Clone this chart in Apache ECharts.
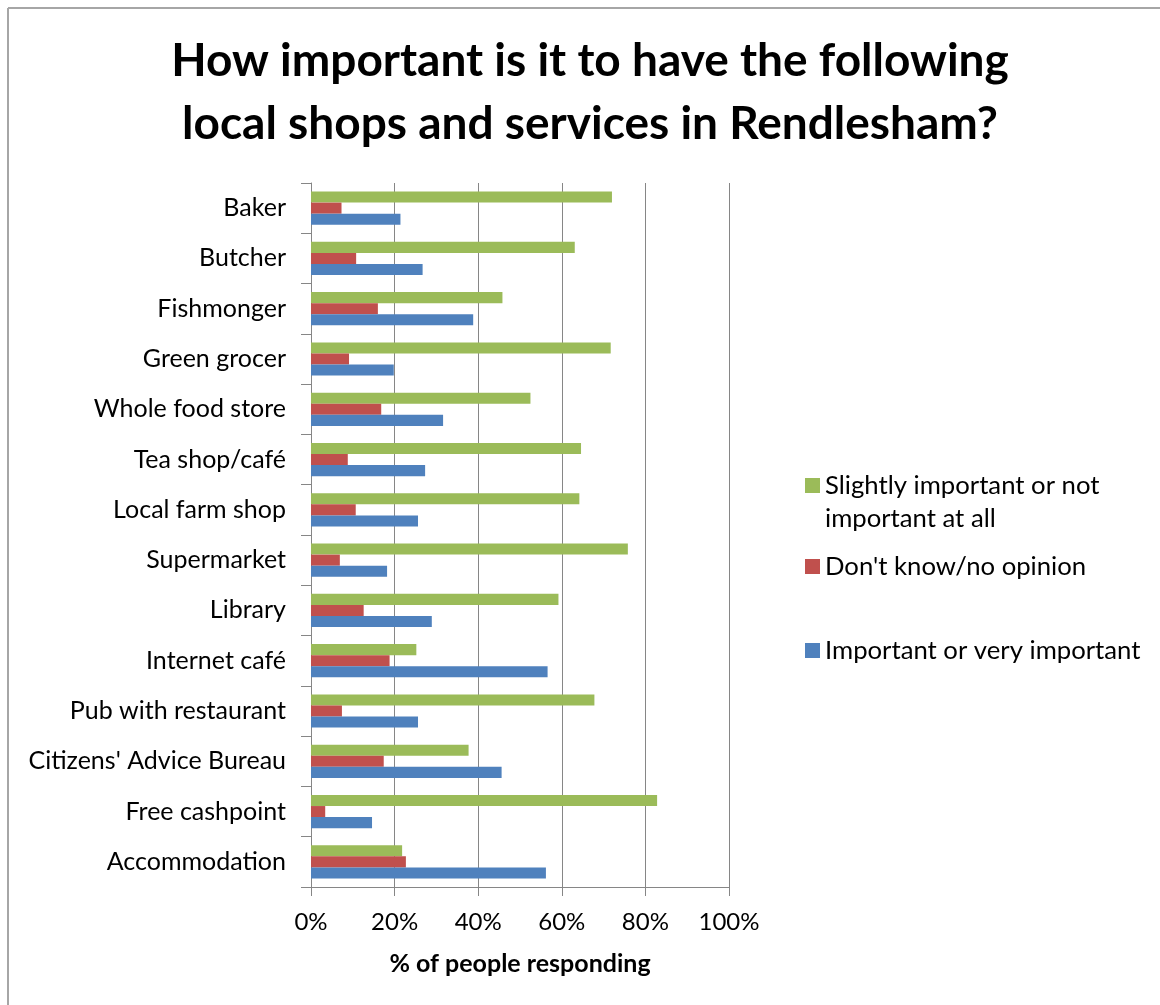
<!DOCTYPE html>
<html>
<head>
<meta charset="utf-8">
<title>Local shops and services in Rendlesham</title>
<script src="https://cdn.jsdelivr.net/npm/echarts@6/dist/echarts.min.js"></script>
<style>
  html, body { margin: 0; padding: 0; background: #fff; }
  #chart { width: 1160px; height: 1005px; }
</style>
</head>
<body>
<div id="chart"></div>
<script>
// Survey categories, listed top to bottom
const categories = [
  'Baker', 'Butcher', 'Fishmonger', 'Green grocer', 'Whole food store',
  'Tea shop/café', 'Local farm shop', 'Supermarket', 'Library', 'Internet café',
  'Pub with restaurant', "Citizens' Advice Bureau", 'Free cashpoint', 'Accommodation'
];

// Share of respondents (%) per answer
const slightlyOrNot = [72.0, 63.1, 45.8, 71.7, 52.5, 64.6, 64.2, 75.8, 59.2, 25.2, 67.8, 37.7, 82.8, 21.8];
const dontKnow      = [7.3, 10.8, 16.0, 9.1, 16.8, 8.8, 10.7, 6.9, 12.6, 18.8, 7.4, 17.4, 3.4, 22.7];
const important     = [21.4, 26.7, 38.8, 19.8, 31.6, 27.3, 25.6, 18.2, 28.9, 56.6, 25.6, 45.6, 14.6, 56.2];

const xTicks = [0, 20, 40, 60, 80, 100];

const seriesNames = [
  'Slightly important or not important at all',
  "Don't know/no opinion",
  'Important or very important'
];
const seriesColors = ['#9BBB59', '#C0504D', '#4F81BD'];
const seriesData = [slightlyOrNot, dontKnow, important];

const FONT = 'Lato, "Open Sans", sans-serif';
const GRID_COLOR = '#868686';

const chart = echarts.init(document.getElementById('chart'), null, { renderer: 'canvas' });

const legendText = {
  fontFamily: FONT,
  fontSize: 25.7,
  color: '#000',
  lineHeight: 33
};

function legendFor(name, top, extra) {
  return Object.assign({
    data: [name],
    orient: 'vertical',
    left: 805,
    top: top,
    padding: 0,
    itemWidth: 15,
    itemHeight: 15,
    icon: 'rect',
    selectedMode: false,
    textStyle: Object.assign({}, legendText)
  }, extra || {});
}

const option = {
  backgroundColor: '#fff',
  animation: false,
  graphic: [
    // chart frame (top and left edges)
    { type: 'line', shape: { x1: 8, y1: 8, x2: 1160, y2: 8 }, style: { stroke: '#a6a6a6', lineWidth: 2 } },
    { type: 'line', shape: { x1: 8, y1: 8, x2: 8, y2: 1005 }, style: { stroke: '#a6a6a6', lineWidth: 2 } },
    {
      type: 'text',
      x: 590,
      y: 30,
      style: {
        text: 'How important is it to have the following\nlocal shops and services in Rendlesham?',
        font: 'bold 46px ' + FONT,
        fill: '#000',
        textAlign: 'center',
        textVerticalAlign: 'top',
        align: 'center',
        verticalAlign: 'top',
        lineHeight: 63
      }
    }
  ],
  legend: [
    // the icon sits beside the first line of the wrapped label
    legendFor(seriesNames[0], 436, {
      formatter: function () { return '\nSlightly important or not\nimportant at all'; }
    }),
    legendFor(seriesNames[1], 550),
    legendFor(seriesNames[2], 634)
  ],
  grid: {
    left: 311,
    right: 431,
    top: 183,
    bottom: 118,
    containLabel: false
  },
  xAxis: {
    type: 'value',
    min: 0,
    max: 100,
    interval: 20,
    name: '% of people responding',
    nameLocation: 'middle',
    nameGap: 64,
    nameTextStyle: { fontFamily: FONT, fontSize: 25, fontWeight: 'bold', color: '#000' },
    axisLine: { show: true, lineStyle: { color: GRID_COLOR, width: 1 } },
    axisTick: { show: true, length: 9, lineStyle: { color: GRID_COLOR } },
    axisLabel: {
      fontFamily: FONT,
      fontSize: 24,
      color: '#000',
      margin: 23,
      formatter: function (v) { return xTicks.indexOf(v) >= 0 ? v + '%' : ''; }
    },
    splitLine: { show: true, lineStyle: { color: GRID_COLOR, width: 1 } }
  },
  yAxis: {
    type: 'category',
    data: categories,
    inverse: true,
    axisLine: { show: true, lineStyle: { color: GRID_COLOR, width: 1 } },
    axisTick: { show: true, length: 10, lineStyle: { color: GRID_COLOR } },
    axisLabel: { fontFamily: FONT, fontSize: 25, color: '#000', margin: 25 },
    splitLine: { show: false }
  },
  series: seriesNames.map(function (name, i) {
    return {
      name: name,
      type: 'bar',
      data: seriesData[i],
      barGap: '0%',
      barCategoryGap: '34%',
      itemStyle: { color: seriesColors[i] },
      emphasis: { disabled: true }
    };
  })
};

chart.setOption(option);
</script>
</body>
</html>
